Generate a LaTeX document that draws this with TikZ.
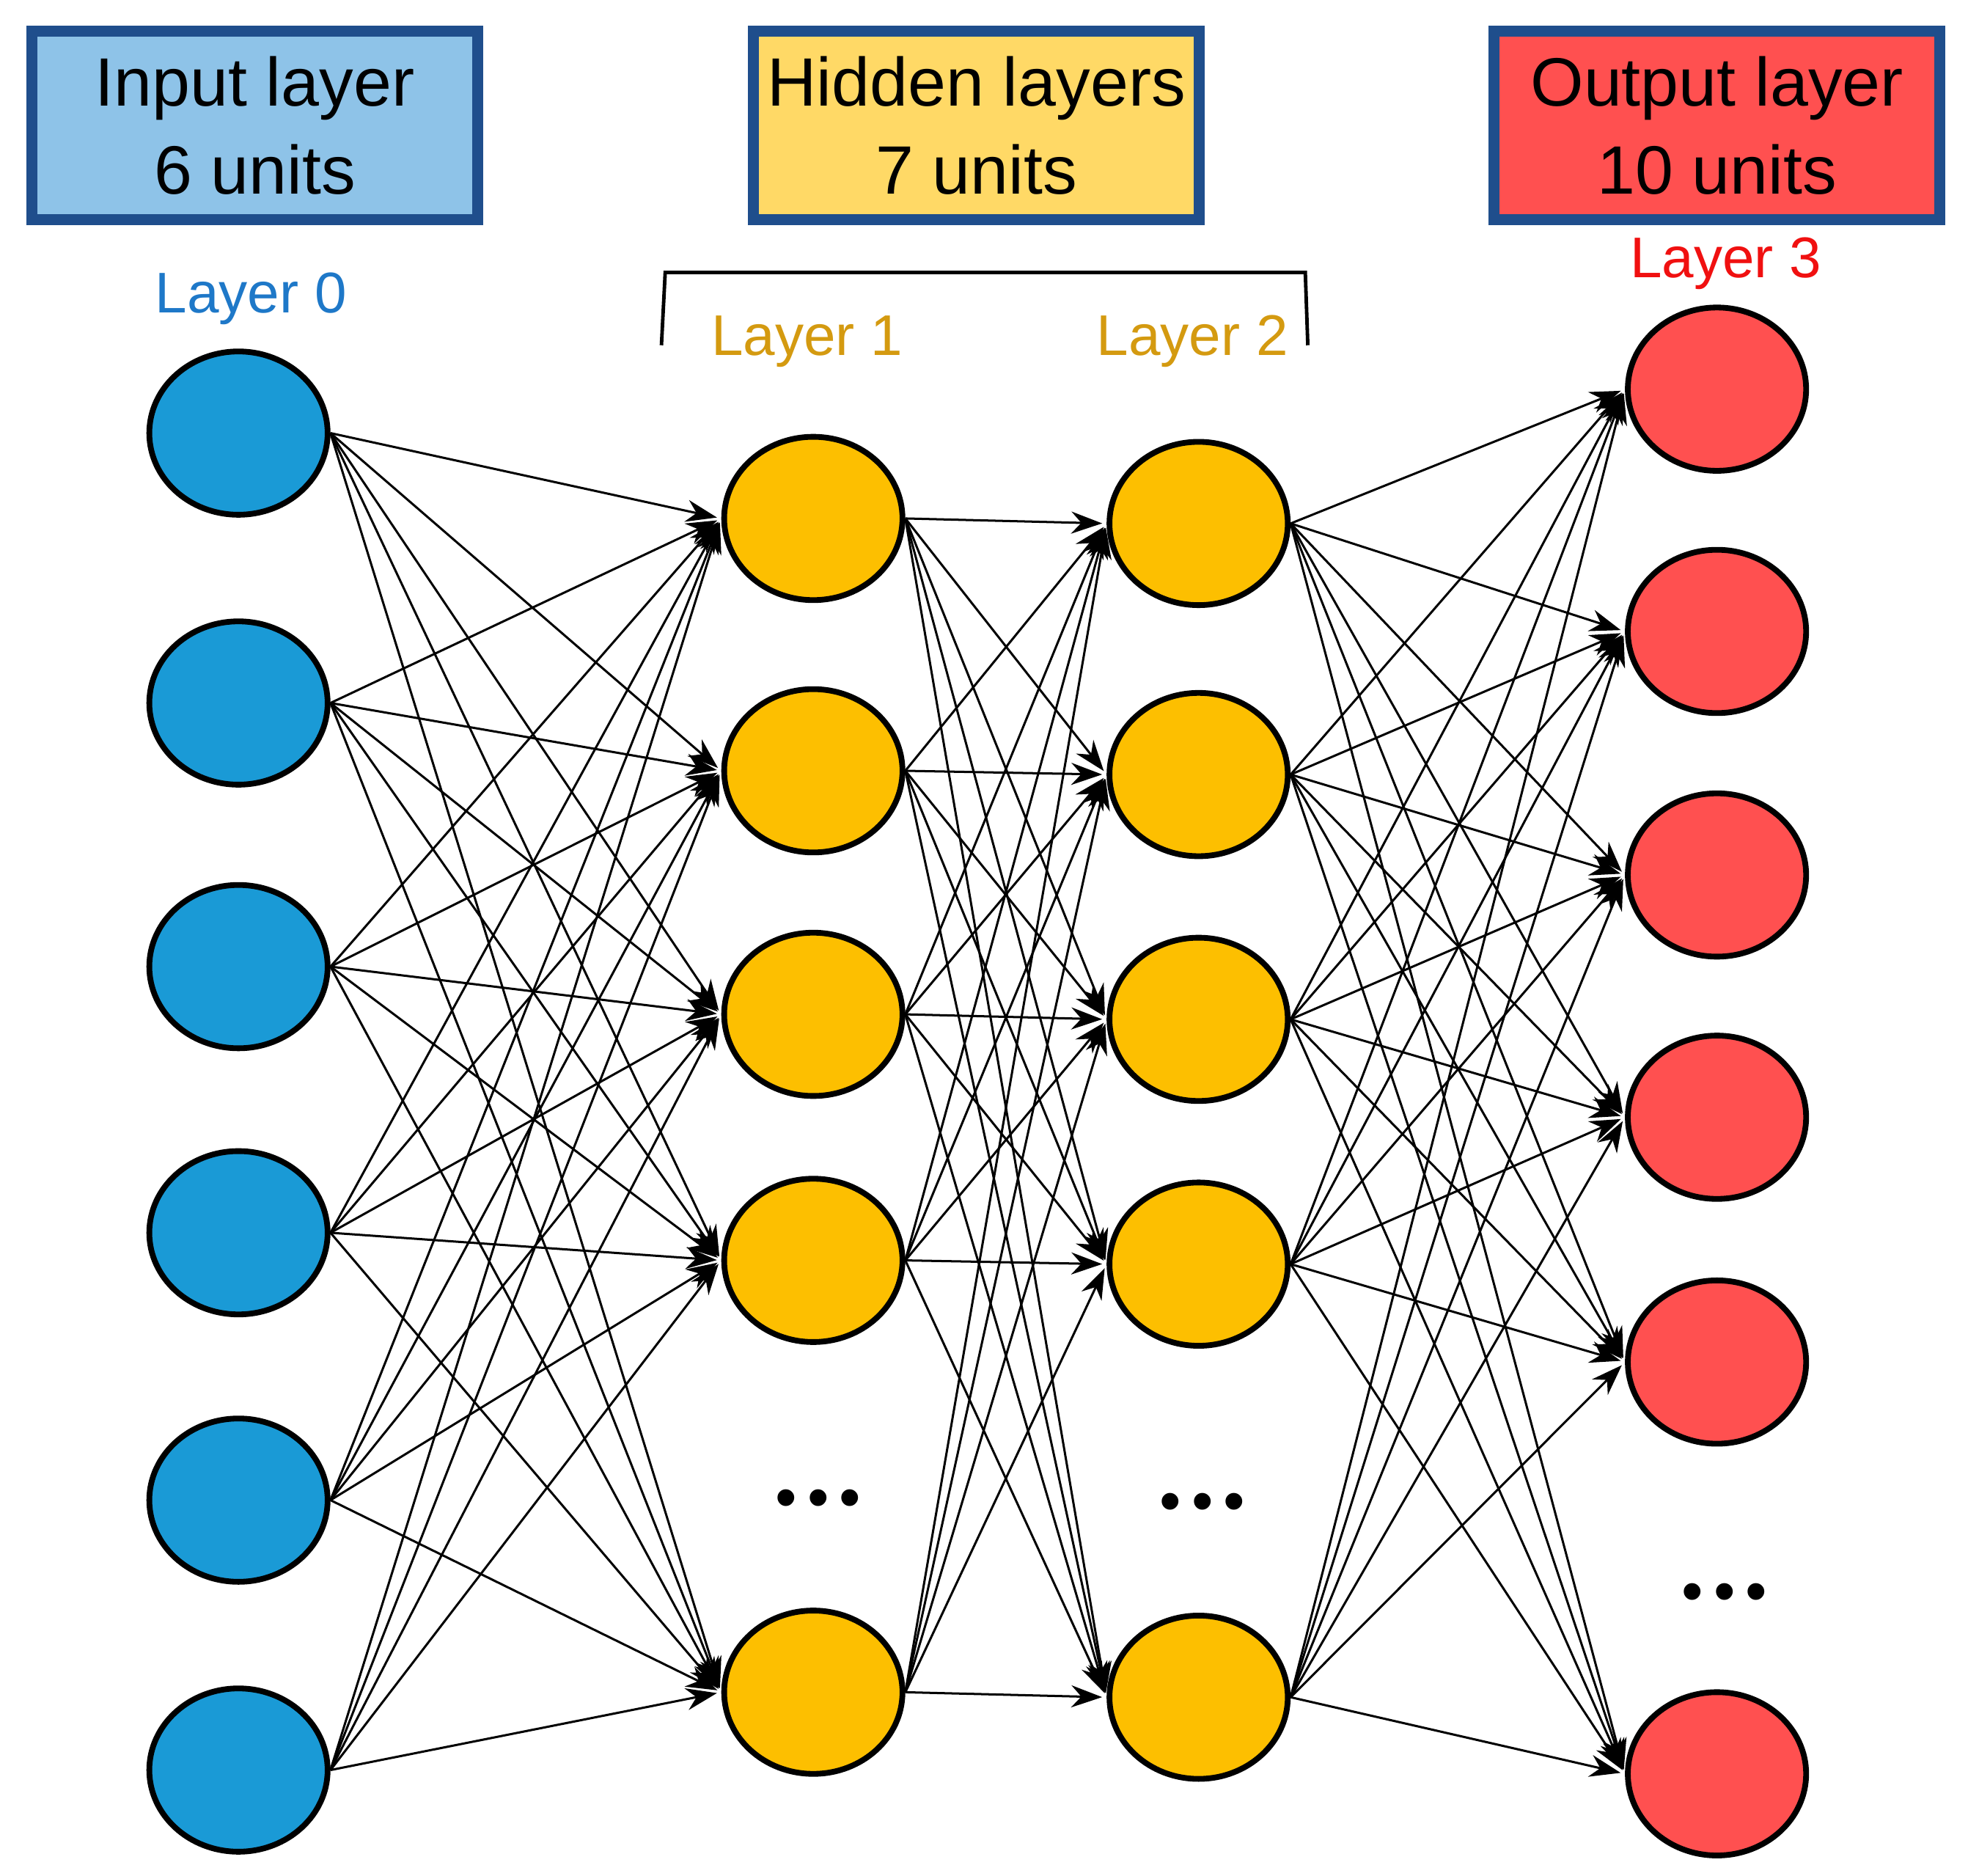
\documentclass[tikz,border=0pt]{standalone}
\usepackage{fontspec}
\setmainfont{Liberation Sans}
\usetikzlibrary{arrows.meta, shapes.geometric}

\definecolor{inblue}{HTML}{1A9AD6}
\definecolor{boxblue}{HTML}{8EC3E8}
\definecolor{hidyel}{HTML}{FDBF00}
\definecolor{boxyel}{HTML}{FFD966}
\definecolor{outred}{HTML}{FF5050}
\definecolor{edgeblue}{HTML}{1F4E8C}
\definecolor{goldtxt}{HTML}{D49A10}
\definecolor{lblblue}{HTML}{1E78C8}
\definecolor{lblred}{HTML}{F01010}

\tikzset{
	unit/.style={ellipse, draw=black, line width=1.3pt, minimum width=1.42cm, minimum height=1.3cm, inner sep=0pt},
	header/.style={draw=edgeblue, line width=2.5pt, minimum width=3.55cm, minimum height=1.5cm, inner sep=0pt, align=center, font=\fontsize{15.5}{20}\selectfont},
	layerlbl/.style={font=\fontsize{13}{15}\selectfont},
	link/.style={-{Stealth[length=7pt,width=5pt]}, line width=0.5pt, shorten >=1pt},
	dots/.style={font=\fontsize{14}{14}\selectfont}
}

\begin{document}
\begin{tikzpicture}[x=0.01cm, y=-0.01cm]
	\useasboundingbox (0,0) rectangle (1568,1494);

	%headers
	\node[header, fill=boxblue] (hin)  at (203,100) {Input layer\\6 units};
	\node[header, fill=boxyel]  (hhid) at (778,100) {Hidden layers\\7 units};
	\node[header, fill=outred]  (hout) at (1368,100) {Output layer\\10 units};

	%layer labels
	\node[layerlbl, text=lblblue] (l0) at (200,238) {Layer 0};
	\node[layerlbl, text=goldtxt] (l1) at (643,272) {Layer 1};
	\node[layerlbl, text=goldtxt] (l2) at (950,272) {Layer 2};
	\node[layerlbl, text=lblred]  (l3) at (1375,210) {Layer 3};
	\draw[line width=0.8pt] (527,275) -- (530,217) -- (1040,217) -- (1042,275);

	%units
	\foreach \y [count=\i] in {345,560,770,982,1195,1410}
		\node[unit, fill=inblue] (a\i) at (190,\y) {};
	\foreach \y [count=\i] in {413,614,808,1004,1348}
		\node[unit, fill=hidyel] (b\i) at (648,\y) {};
	\foreach \y [count=\i] in {417,617,812,1007,1352}
		\node[unit, fill=hidyel] (c\i) at (955,\y) {};
	\foreach \y [count=\i] in {310,503,697,890,1085,1413}
		\node[unit, fill=outred] (d\i) at (1368,\y) {};

	%dots
	\node[dots] (db) at (652,1198) {\textbullet\,\textbullet\,\textbullet};
	\node[dots] (dc) at (958,1201) {\textbullet\,\textbullet\,\textbullet};
	\node[dots] (dd) at (1374,1273) {\textbullet\,\textbullet\,\textbullet};

	%links
	\foreach \i in {1,...,6}
		\foreach \j in {1,...,5}
			\draw[link] (a\i.east) -- (b\j.west);
	\foreach \i in {1,...,5}
		\foreach \j in {1,...,5}
			\draw[link] (b\i.east) -- (c\j.west);
	\foreach \i in {1,...,5}
		\foreach \j in {1,...,6}
			\draw[link] (c\i.east) -- (d\j.west);
\end{tikzpicture}
\end{document}
